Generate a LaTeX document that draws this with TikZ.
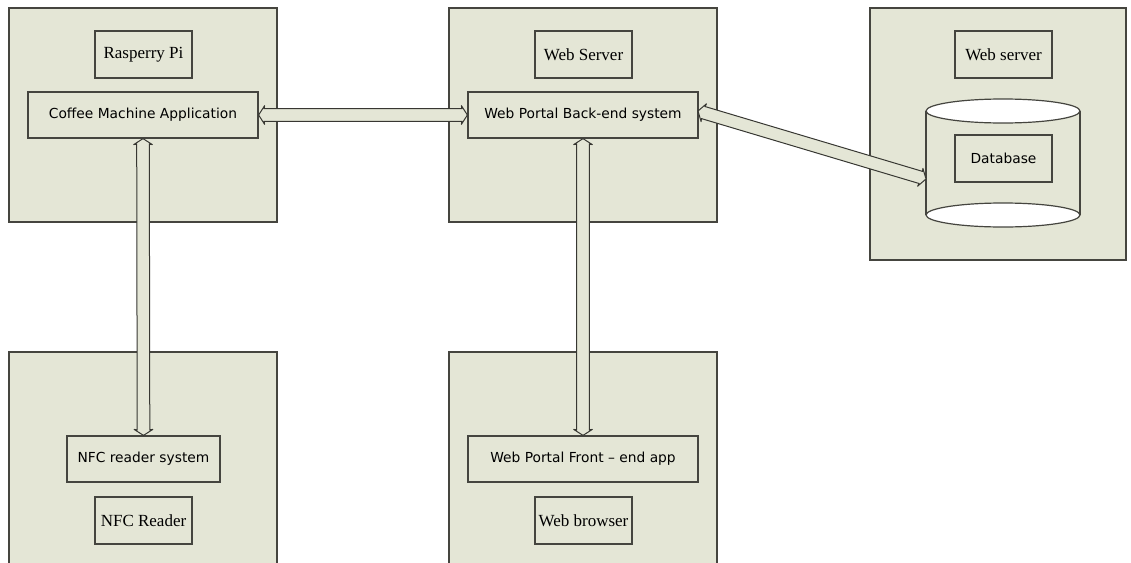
\documentclass[tikz,border=0pt]{standalone}
\usepackage{fontspec}
\setmainfont{Liberation Serif}
\newfontfamily\labelsans{DejaVu Sans}
\usetikzlibrary{calc}
\definecolor{panelfill}{HTML}{E4E6D6}
\definecolor{edge}{HTML}{45453F}

% two-headed hollow arrow between two anchors: shaft half-width 6.3pt,
% barbs 9.3pt off the axis, heads 6pt long
\newcommand\biarrow[2]{%
  \draw[link] (#1)
    -- ($($(#1)!6pt!(#2)$)!9.3pt!90:(#2)$)
    -- ($($(#1)!5.5pt!(#2)$)!6.3pt!90:(#2)$)
    -- ($($(#2)!5.5pt!(#1)$)!6.3pt!-90:(#1)$)
    -- ($($(#2)!6pt!(#1)$)!9.3pt!-90:(#1)$)
    -- (#2)
    -- ($($(#2)!6pt!(#1)$)!9.3pt!90:(#1)$)
    -- ($($(#2)!5.5pt!(#1)$)!6.3pt!90:(#1)$)
    -- ($($(#1)!5.5pt!(#2)$)!6.3pt!-90:(#2)$)
    -- ($($(#1)!6pt!(#2)$)!9.3pt!-90:(#2)$)
    -- cycle;}

\begin{document}
\begin{tikzpicture}[x=1pt,y=-1pt,
  panel/.style={draw=edge, line width=1.2pt, fill=panelfill, inner sep=0pt},
  hostbox/.style={draw=edge, line width=1.2pt, fill=panelfill, minimum width=97pt,
    minimum height=47pt, inner sep=0pt, font=\fontsize{17}{18}\selectfont},
  appbox/.style={draw=edge, line width=1.2pt, fill=panelfill, minimum height=46pt,
    inner sep=0pt, font=\labelsans\fontsize{13.8}{15}\selectfont},
  link/.style={draw=edge!80!black, line width=1pt, fill=panelfill, line join=round}
]
\useasboundingbox (0,0) rectangle (1131,562);
\clip (0,0) rectangle (1131,562);

% device panels
\node[panel, minimum width=268pt, minimum height=214pt] (pipanel) at (143,115) {};
\node[panel, minimum width=268pt, minimum height=214pt] (srvpanel) at (583,115) {};
\node[panel, minimum width=256pt, minimum height=252pt] (dbpanel) at (998,134) {};
\node[panel, minimum width=268pt, minimum height=228pt] (nfcpanel) at (143,466) {};
\node[panel, minimum width=268pt, minimum height=228pt] (webpanel) at (583,466) {};

% hardware / host labels
\node[hostbox] (pi) at (143.5,54.5) {Rasperry Pi};
\node[hostbox] (websrv) at (583.5,54.5) {Web Server};
\node[hostbox] (dbsrv) at (1003.5,54.5) {Web server};
\node[hostbox] (reader) at (143.5,520.5) {NFC Reader};
\node[hostbox] (browser) at (583.5,520.5) {Web browser};

% software components
\node[appbox, minimum width=230pt] (coffee) at (143,115) {Coffee Machine Application};
\node[appbox, minimum width=230pt] (backend) at (583,115) {Web Portal Back-end system};
\node[appbox, minimum width=153pt] (nfcsys) at (143.5,459) {NFC reader system};
\node[appbox, minimum width=230pt] (frontend) at (583,459) {Web Portal Front \textendash\ end app};

% database cylinder
\fill[panelfill] (926,111) rectangle (1080,215);
\draw[edge, line width=1.2pt] (926,111) -- (926,215) (1080,111) -- (1080,215);
\draw[edge, line width=1.2pt, fill=white] (1003,215) ellipse [x radius=77pt, y radius=12pt];
\draw[edge, line width=1.2pt, fill=white] (1003,111) ellipse [x radius=77pt, y radius=12pt];
\node[hostbox, font=\labelsans\fontsize{13.8}{15}\selectfont] (db) at (1003.5,158.5) {Database};
\coordinate (dbport) at (926,179);
\coordinate (bkport) at (698,111);

% links
\biarrow{coffee.east}{backend.west}
\biarrow{coffee.south}{nfcsys.north}
\biarrow{backend.south}{frontend.north}
\biarrow{bkport}{dbport}
\end{tikzpicture}
\end{document}
